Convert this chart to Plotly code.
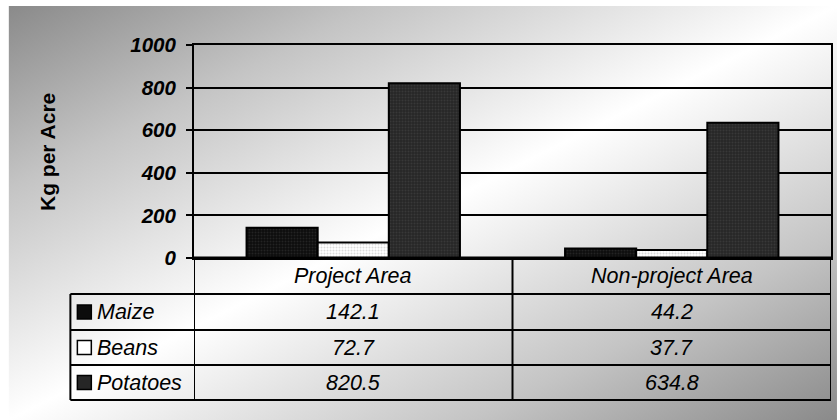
import urllib.parse
import plotly.graph_objects as go

categories = ["Project Area", "Non-project Area"]
series_names = ["Maize", "Beans", "Potatoes"]
maize = [142.1, 44.2]
beans = [72.7, 37.7]
potatoes = [820.5, 634.8]
y_title = "Kg per Acre"
y_ticks = [0, 200, 400, 600, 800, 1000]

series_values = [maize, beans, potatoes]
fills = ["#0c0c0c", "#ffffff", "#262626"]
fgs = ["#3a3a3a", "#b8b8b8", "#4a4a4a"]

# page offset of the figure (body margin set by post_script)
OX, OY = 8, 6
W, H = 831, 414
PLX0, PLX1, PLY0, PLY1 = 194, 833, 45, 258  # plot area in page pixels
L, R, T, B = PLX0 - OX, OX + W - PLX1, PLY0 - OY, OY + H - PLY1
PW, PH = PLX1 - PLX0, PLY1 - PLY0
FONT = "Liberation Sans, Arial, sans-serif"


def px(xp):
    return (xp - PLX0) / PW


def py(yp):
    return (PLY1 - yp) / PH


fig = go.Figure()
for name, vals, fc, fg in zip(series_names, series_values, fills, fgs):
    fig.add_trace(go.Bar(
        x=categories, y=vals, name=name, showlegend=False,
        marker=dict(color=fc, line=dict(color="#000000", width=2),
                    pattern=dict(shape=".", bgcolor=fc, fgcolor=fg, size=3, solidity=0.35)),
    ))

svg = (
    "<svg xmlns='http://www.w3.org/2000/svg' width='831' height='414' preserveAspectRatio='none'>"
    "<defs><linearGradient id='g' x1='0' y1='0' x2='1' y2='1'>"
    "<stop offset='0' stop-color='#8a8a8a'/><stop offset='0.22' stop-color='#c4c4c4'/>"
    "<stop offset='0.5' stop-color='#ffffff'/><stop offset='0.78' stop-color='#c4c4c4'/>"
    "<stop offset='1' stop-color='#8a8a8a'/></linearGradient></defs>"
    "<rect width='831' height='414' fill='url(#g)'/></svg>"
)
src = "data:image/svg+xml;charset=utf-8," + urllib.parse.quote(svg)

fig.add_layout_image(dict(
    source=src, xref="paper", yref="paper",
    x=px(OX), y=py(OY), sizex=px(OX + W) - px(OX), sizey=py(OY) - py(OY + H),
    xanchor="left", yanchor="top", sizing="stretch", layer="below",
))

shapes = []
lw = 2
row_lines = [258, 294, 330, 365, 400]
row_centers = [312, 347.5, 382.5]
for i, yy in enumerate(row_lines):
    x0 = px(194) if i == 0 else px(70)
    shapes.append(dict(type="line", xref="paper", yref="paper",
                       x0=x0, x1=px(833), y0=py(yy), y1=py(yy),
                       line=dict(color="#000", width=3 if i == 0 else lw)))
shapes.append(dict(type="line", xref="paper", yref="paper", x0=px(70), x1=px(70),
                   y0=py(294), y1=py(400), line=dict(color="#000", width=lw)))
for xv in [-0.5, 0.5, 1.5]:
    shapes.append(dict(type="line", xref="x", yref="paper", x0=xv, x1=xv,
                       y0=py(258), y1=py(400), line=dict(color="#000", width=lw)))
for fc, yy in zip(fills, row_centers):
    shapes.append(dict(type="rect", xref="paper", yref="paper",
                       x0=px(77), x1=px(91), y0=py(yy - 7), y1=py(yy + 7),
                       fillcolor=fc, line=dict(color="#000", width=1.5)))

annotations = []
annotations.append(dict(text=y_title, xref="paper", yref="paper", x=px(47), y=0.5,
                        xanchor="center", yanchor="middle",
                        textangle=-90, showarrow=False,
                        font=dict(family=FONT, size=21, color="#000", weight="bold")))
tfont = dict(family=FONT, size=21.5, color="#000", style="italic")
for i, c in enumerate(categories):
    annotations.append(dict(text=c, xref="x", yref="paper", x=i, y=py(276),
                            showarrow=False, xanchor="center", yanchor="middle", font=tfont))
for name, vals, yy in zip(series_names, series_values, row_centers):
    annotations.append(dict(text=name, xref="paper", yref="paper", x=px(95), y=py(yy),
                            showarrow=False, xanchor="left", yanchor="middle", font=tfont))
    for i, v in enumerate(vals):
        annotations.append(dict(text=f"{v:.1f}", xref="x", yref="paper", x=i, y=py(yy),
                                showarrow=False, xanchor="center", yanchor="middle", font=tfont))

fig.update_layout(
    width=W, height=H,
    margin=dict(l=L, r=R, t=T, b=B, pad=0),
    paper_bgcolor="#ffffff", plot_bgcolor="rgba(0,0,0,0)",
    barmode="group", bargap=0.33, bargroupgap=0,
    shapes=shapes, annotations=annotations,
    xaxis=dict(showticklabels=False, ticks="", showgrid=False, showline=True, mirror=True,
               linecolor="#000", linewidth=2, range=[-0.5, 1.5], fixedrange=True),
    yaxis=dict(range=[0, 1000], tickvals=y_ticks, showgrid=True, gridcolor="#000", gridwidth=2,
               showline=True, mirror=True, linecolor="#000", linewidth=2, zeroline=False,
               ticks="outside", ticklen=6, tickwidth=2, tickcolor="#000", ticklabelstandoff=6,
               tickfont=dict(family=FONT, size=20.5, color="#000", weight="bold", style="italic")),
    font=dict(family=FONT),
)

fig.write_html("out.html", post_script="document.body.style.margin='6px 0px 0px 8px';")
